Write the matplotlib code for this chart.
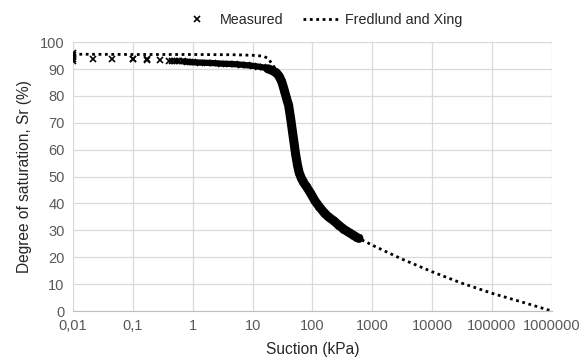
import matplotlib
matplotlib.use("Agg")
import matplotlib.pyplot as plt
from matplotlib.ticker import FixedLocator, FixedFormatter, NullLocator

plt.rcParams['font.family'] = ['Liberation Sans', 'DejaVu Sans']

# Measured data (suction kPa, degree of saturation %)
meas_suction = [0.01, 0.01, 0.01, 0.01, 0.01, 0.022, 0.045, 0.1, 0.1, 0.17, 0.17, 0.28,
                0.4, 0.45, 0.5, 0.55, 0.6, 0.7, 0.8, 0.9, 1.0, 1.3, 1.7, 2.2, 3.0, 4.0,
                5.0, 6.5, 8.0, 10.0, 12.5, 15.0, 18.0, 21.0, 25.0, 28.0, 31.0, 34.0,
                37.0, 40.0, 43.0, 46.0, 49.0, 52.0, 56.0, 60.0, 65.0, 71.0, 81.0, 95.0,
                110.0, 130.0, 160.0, 190.0, 226.0, 280.0, 340.0, 430.0, 500.0, 560.0, 600.0]
meas_sr = [96.0, 95.2, 94.5, 93.8, 93.0, 93.9, 93.9, 93.6, 93.9, 93.4, 93.8, 93.4,
           93.0, 93.0, 92.9, 92.9, 92.8, 92.8, 92.7, 92.6, 92.5, 92.4, 92.3, 92.2, 92.0, 91.9,
           91.8, 91.6, 91.4, 91.2, 90.9, 90.6, 90.1, 89.5, 88.6, 87.2, 85.0, 82.0,
           79.0, 76.5, 72.0, 67.3, 63.0, 58.7, 54.5, 51.5, 49.5, 47.8, 46.0, 43.5,
           41.0, 38.8, 36.3, 34.8, 33.6, 31.8, 30.3, 28.9, 28.0, 27.3, 27.0]

# Fredlund and Xing fit
fit_suction = [0.01, 0.1, 1, 5, 10, 15, 18, 21, 25, 30, 40, 50, 60, 80, 100, 200, 400,
               600, 1000, 3000, 10000, 30000, 100000, 300000, 1000000]
fit_sr = [95.5, 95.4, 95.4, 95.3, 95.1, 94.8, 94.0, 92.0, 89.5, 86.0, 78.0, 62.0, 52.0,
          46.0, 43.0, 35.0, 29.5, 27.0, 24.5, 19.5, 14.6, 10.5, 6.6, 3.5, 0.0]

x_ticks = [0.01, 0.1, 1, 10, 100, 1000, 10000, 100000, 1000000]
x_tick_labels = ['0,01', '0,1', '1', '10', '100', '1000', '10000', '100000', '1000000']
y_ticks = [0, 10, 20, 30, 40, 50, 60, 70, 80, 90, 100]

fig = plt.figure(figsize=(5.84, 3.6), dpi=100)
ax = fig.add_axes([0.125, 0.136, 0.82, 0.747])

grid_c = '#d9d9d9'
text_c = '#595959'

ax.plot(fit_suction, fit_sr, color='black', lw=2.0, linestyle=(0, (1, 1.3)),
        label='Fredlund and Xing', zorder=2)
# dense band of measured points (thinner on the plateau, thicker on the steep part)
ax.plot(meas_suction[17:34], meas_sr[17:34], color='black', lw=4.5, solid_capstyle='round',
        solid_joinstyle='round', zorder=3, label='_nolegend_')
ax.plot(meas_suction[32:], meas_sr[32:], color='black', lw=6.5, solid_capstyle='round',
        solid_joinstyle='round', zorder=3, label='_nolegend_')
ax.plot(meas_suction, meas_sr, linestyle='none', marker='x', color='black', ms=4.5,
        mew=1.2, label='Measured', zorder=4)

ax.set_xscale('log')
ax.set_xlim(0.01, 1000000)
ax.set_ylim(0, 100)
ax.xaxis.set_major_locator(FixedLocator(x_ticks))
ax.xaxis.set_major_formatter(FixedFormatter(x_tick_labels))
ax.xaxis.set_minor_locator(NullLocator())
ax.set_yticks(y_ticks)

ax.grid(True, color=grid_c, lw=0.9)
ax.set_axisbelow(True)
for s in ['top', 'right', 'left']:
    ax.spines[s].set_visible(False)
ax.spines['bottom'].set_color('#bfbfbf')
ax.tick_params(axis='both', length=0, labelsize=10.5, colors=text_c, pad=6)

ax.set_xlabel('Suction (kPa)', fontsize=11.2, color='#262626', labelpad=6)
ax.set_ylabel('Degree of saturation, Sr (%)', fontsize=11.2, color='#262626', labelpad=6)

handles, labels = ax.get_legend_handles_labels()
order = [labels.index('Measured'), labels.index('Fredlund and Xing')]
fig.legend([handles[i] for i in order], [labels[i] for i in order],
           loc='center', bbox_to_anchor=(0.548, 0.945), ncol=2, frameon=False,
           fontsize=10.3, handlelength=2.6, columnspacing=1.4, handletextpad=0.3,
           labelcolor='#262626', markerscale=0.9)

fig.savefig('out.png', dpi=100)
